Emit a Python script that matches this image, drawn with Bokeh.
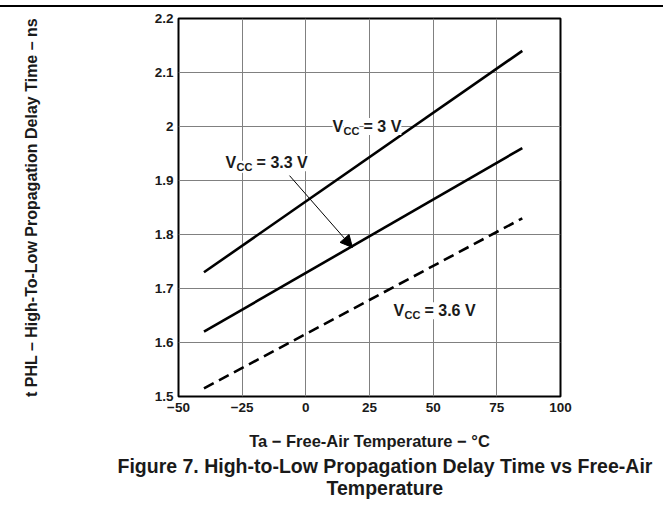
from bokeh.plotting import figure
from bokeh.models import FixedTicker, Label, Arrow, NormalHead, Title, Div
from bokeh.layouts import column
from bokeh.embed import file_html
from bokeh.resources import INLINE

# ---- data ----
temps = [-40, 85]
vcc_3 = [1.73, 2.14]
vcc_33 = [1.62, 1.96]
vcc_36 = [1.515, 1.83]

x_ticks = [-50, -25, 0, 25, 50, 75, 100]
x_tick_labels = ["\u221250", "\u221225", "0", "25", "50", "75", "100"]
y_ticks = [1.5, 1.6, 1.7, 1.8, 1.9, 2.0, 2.1, 2.2]
y_tick_labels = ["1.5", "1.6", "1.7", "1.8", "1.9", "2", "2.1", "2.2"]

x_label = "Ta \u2212 Free-Air Temperature \u2212 \u00b0C"
y_label = "t PHL \u2013 High-To-Low Propagation Delay Time \u2013 ns"
caption_1 = "Figure 7. High-to-Low Propagation Delay Time vs Free-Air"
caption_2 = "Temperature"

series_labels = [("3 V", 10.5, 2.0), ("3.3 V", -31.5, 1.933), ("3.6 V", 34.4, 1.659)]
arrow_from = (-6.4, 1.909)
arrow_to = (18.3, 1.776)

FONT = "Liberation Sans"
TXT = "#1a1a1a"

# ---- top rule ----
rule = Div(text='<div style="position:absolute;left:0px;top:5px;width:663px;'
                'height:2px;background-color:#000000;display:block;"></div>',
           width=663, height=8, margin=0,
           styles={"position": "relative", "overflow": "visible"})

# ---- main figure ----
p = figure(width=663, height=500, toolbar_location=None, margin=0,
           output_backend="svg", x_range=(-50, 100), y_range=(1.5, 2.2),
           min_border_left=178, min_border_right=103, min_border_top=10,
           min_border_bottom=112)
p.outline_line_color = "black"
p.outline_line_width = 2
p.background_fill_color = "white"
p.border_fill_color = "white"

p.xaxis.ticker = FixedTicker(ticks=x_ticks)
p.xaxis.major_label_overrides = dict(zip(x_ticks, x_tick_labels))
p.yaxis.ticker = FixedTicker(ticks=y_ticks)
p.yaxis.major_label_overrides = dict(zip(y_ticks, y_tick_labels))

for ax in (p.xaxis, p.yaxis):
    ax.axis_line_color = None
    ax.major_tick_line_color = None
    ax.minor_tick_line_color = None
    ax.major_tick_out = 0
    ax.major_tick_in = 0
    ax.minor_tick_out = 0
    ax.minor_tick_in = 0
    ax.major_label_text_font = FONT
    ax.major_label_text_font_style = "bold"
    ax.major_label_text_font_size = "13.5px"
    ax.major_label_text_color = TXT
    ax.axis_label_text_font = FONT
    ax.axis_label_text_font_style = "bold"
    ax.axis_label_text_color = TXT

p.xaxis.axis_label = x_label
p.yaxis.axis_label = y_label
p.xaxis.axis_label_text_font_size = "16.5px"
p.yaxis.axis_label_text_font_size = "16px"
p.xaxis.major_label_standoff = 6
p.yaxis.major_label_standoff = 5
p.xaxis.axis_label_standoff = 17
p.yaxis.axis_label_standoff = 112

p.grid.grid_line_color = "#808080"
p.grid.grid_line_width = 1

p.line(temps, vcc_3, line_color="black", line_width=2.6)
p.line(temps, vcc_33, line_color="black", line_width=2.6)
p.line(temps, vcc_36, line_color="black", line_width=2.6, line_dash="11 6")

for txt, lx, ly in series_labels:
    common = dict(x=lx, y=ly, text_font=FONT, text_font_style="bold",
                  text_baseline="middle", text_align="left", text_color=TXT,
                  background_fill_color="white")
    p.add_layout(Label(text="V", text_font_size="16px", **common))
    p.add_layout(Label(text="CC", text_font_size="11px", x_offset=11, y_offset=-4, **common))
    p.add_layout(Label(text="= " + txt, text_font_size="16px", x_offset=31, **common))

p.add_layout(Arrow(x_start=arrow_from[0], y_start=arrow_from[1],
                   x_end=arrow_to[0], y_end=arrow_to[1], line_width=1,
                   line_color="black",
                   end=NormalHead(size=12, fill_color="black", line_color="black")))

p.add_layout(Title(text=caption_1, align="left", offset=-61, text_font=FONT,
                   text_font_style="bold", text_font_size="19.5px",
                   text_color=TXT, standoff=0), "below")
p.add_layout(Title(text=caption_2, align="left", offset=148, text_font=FONT,
                   text_font_style="bold", text_font_size="19.5px",
                   text_color=TXT, standoff=0, vertical_align="top"), "below")

layout = column(rule, p, spacing=0)
open("out.html", "w").write(file_html(layout, INLINE))
